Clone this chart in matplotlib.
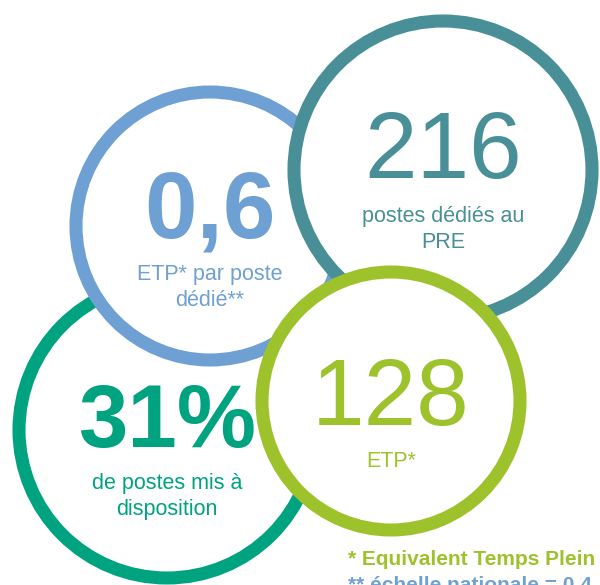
import matplotlib.pyplot as plt
from matplotlib.patches import Circle

plt.rcParams['font.family'] = ['Liberation Sans', 'DejaVu Sans']

# chiffres clés
values = ['31%', '0,6', '216', '128']
labels = [['de postes mis à', 'disposition'], ['ETP* par poste', 'dédié**'],
          ['postes dédiés au', 'PRE'], ['ETP*']]
bold_value = [True, True, False, False]
colors = ['#00A37F', '#6FA0D3', '#488F97', '#9DC22B']

notes = ['* Equivalent Temps Plein', '** échelle nationale = 0,4']
note_colors = ['#9DC22B', '#6FA0D3']

# layout (pixels, y down)
centers = [(167, 430), (210, 226), (443, 170), (391, 401)]
radii = [148, 134, 149, 129]
value_base = [447, 237, 178, 425]
value_size = [64, 68, 68, 68]
label_base = [489, 280, 222, 467]
line_gap = 26

fig = plt.figure(figsize=(6.0, 5.85), dpi=100)
ax = fig.add_axes([0, 0, 1, 1])
ax.set_xlim(0, 600)
ax.set_ylim(585, 0)
ax.axis('off')

for i in range(len(values)):
    cx, cy = centers[i]
    ax.add_patch(Circle((cx, cy), radii[i], facecolor='white', edgecolor=colors[i],
                        linewidth=9.4, zorder=i + 1))
    ax.text(cx, value_base[i], values[i], ha='center', va='baseline', fontsize=value_size[i],
            fontweight='bold' if bold_value[i] else 'normal', color=colors[i], zorder=10)
    for k, line in enumerate(labels[i]):
        ax.text(cx, label_base[i] + line_gap * k, line, ha='center', va='baseline',
                fontsize=15.5, color=colors[i], zorder=10)

for j, note in enumerate(notes):
    ax.text(348, 565 + 26 * j, note, ha='left', va='baseline', fontsize=15,
            fontweight='bold', color=note_colors[j], zorder=10)

fig.savefig('out.png', dpi=100)
